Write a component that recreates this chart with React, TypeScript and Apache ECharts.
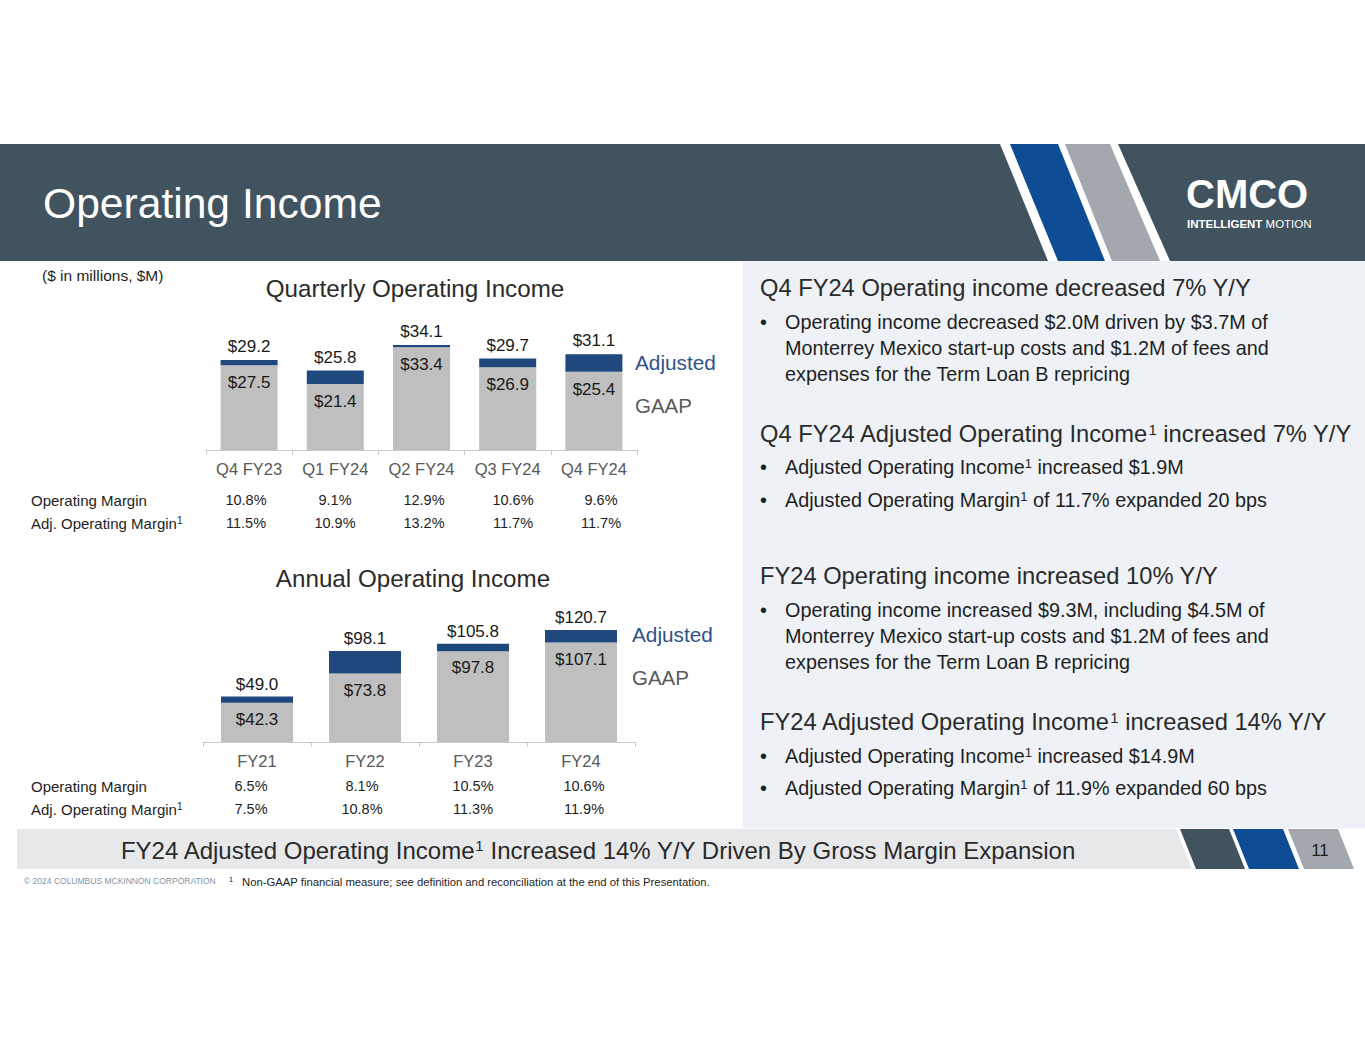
import React, { useEffect, useRef } from "react";
import * as echarts from "echarts";

// ---------- data ----------
const quarters = ["Q4 FY23", "Q1 FY24", "Q2 FY24", "Q3 FY24", "Q4 FY24"];
const quarterGaap = [27.5, 21.4, 33.4, 26.9, 25.4];
const quarterAdjusted = [29.2, 25.8, 34.1, 29.7, 31.1];
const quarterMargin = ["10.8%", "9.1%", "12.9%", "10.6%", "9.6%"];
const quarterAdjMargin = ["11.5%", "10.9%", "13.2%", "11.7%", "11.7%"];

const years = ["FY21", "FY22", "FY23", "FY24"];
const yearGaap = [42.3, 73.8, 97.8, 107.1];
const yearAdjusted = [49.0, 98.1, 105.8, 120.7];
const yearMargin = ["6.5%", "8.1%", "10.5%", "10.6%"];
const yearAdjMargin = ["7.5%", "10.8%", "11.3%", "11.9%"];

// ---------- styling ----------
const FONT = "'Liberation Sans', Arial, Helvetica, sans-serif";
const SLATE = "#41535F";
const STRIPE_BLUE = "#0E4C96";
const STRIPE_GRAY = "#A2A8AD";
const BAR_GRAY = "#BFBFBF";
const BAR_BLUE = "#1F497D";
const DARK = "#1e1e1e";
const HEAD = "#2a2a2a";

function txt(x: number, y: number, text: string, size: number, color: string, extra: any = {}) {
  return {
    type: "text",
    x,
    y,
    silent: true,
    z: 10,
    style: {
      text,
      fontSize: size,
      fontFamily: FONT,
      fill: color,
      align: "left",
      verticalAlign: "middle",
      textAlign: "left",
      textVerticalAlign: "middle",
      rich: {
        sup: {
          fontSize: Math.round(size * 0.64),
          fontFamily: FONT,
          fill: color,
          verticalAlign: "top",
        },
      },
      ...extra,
    },
  };
}

function poly(points: number[][], color: string, z = 1) {
  return { type: "polygon", silent: true, z, shape: { points }, style: { fill: color } };
}

function rect(x: number, y: number, w: number, h: number, color: string, z = 0) {
  return { type: "rect", silent: true, z, shape: { x, y, width: w, height: h }, style: { fill: color } };
}

const quarterTableX = [246, 335, 424, 513, 601];
const yearTableX = [251, 362, 473, 584];

function buildGraphics() {
  const g: any[] = [];
  // header band
  g.push(rect(0, 144, 1365, 117, SLATE, 0));
  g.push(poly([[1000, 144], [1118, 144], [1170, 261], [1048, 261]], "#ffffff", 1));
  g.push(poly([[1010, 144], [1058, 144], [1105, 261], [1058, 261]], STRIPE_BLUE, 2));
  g.push(poly([[1065, 144], [1110, 144], [1160, 261], [1112, 261]], STRIPE_GRAY, 2));
  g.push(txt(43, 203, "Operating Income", 42.6, "#ffffff"));
  // logo
  g.push(txt(1186, 194, "CMCO", 40, "#ffffff", { fontWeight: 900 }));
  g.push(
    txt(1187, 224, "{b|INTELLIGENT} MOTION", 11.5, "#ffffff", {
      rich: { b: { fontSize: 11.5, fontFamily: FONT, fontWeight: "bold", fill: "#ffffff" } },
    })
  );

  // right panel
  g.push(rect(743, 261, 622, 567, "#EEF2F6", 0));

  // footer bar + stripes
  g.push(poly([[17, 829], [1176, 829], [1192, 869], [17, 869]], "#E7E8EA", 0));
  g.push(poly([[1180, 829], [1229, 829], [1245, 869], [1196, 869]], SLATE, 2));
  g.push(poly([[1233, 829], [1283, 829], [1299, 869], [1249, 869]], STRIPE_BLUE, 2));
  g.push(poly([[1288, 829], [1338, 829], [1354, 869], [1304, 869]], STRIPE_GRAY, 2));
  g.push(txt(1320, 850, "11", 17, DARK, { align: "center", textAlign: "center" }));
  g.push(
    txt(598, 850, "FY24 Adjusted Operating Income{sup|1} Increased 14% Y/Y Driven By Gross Margin Expansion", 24, HEAD, {
      align: "center",
      textAlign: "center",
    })
  );
  g.push(txt(24, 881, "© 2024 COLUMBUS MCKINNON CORPORATION", 8.5, "#8393A8"));
  g.push(txt(229, 879, "1", 7.5, DARK));
  g.push(txt(242, 882, "Non-GAAP financial measure; see definition and reconciliation at the end of this Presentation.", 11.3, DARK));

  // left side captions
  g.push(txt(42, 275, "($ in millions, $M)", 15.5, DARK));
  g.push(txt(415, 288, "Quarterly Operating Income", 24.2, HEAD, { align: "center", textAlign: "center" }));
  g.push(txt(413, 578, "Annual Operating Income", 24.2, HEAD, { align: "center", textAlign: "center" }));
  g.push(txt(635, 362, "Adjusted", 20.8, "#2F5288"));
  g.push(txt(635, 405, "GAAP", 20.5, "#595959"));
  g.push(txt(632, 634, "Adjusted", 20.8, "#2F5288"));
  g.push(txt(632, 677, "GAAP", 20.5, "#595959"));

  // margin tables
  g.push(txt(31, 500, "Operating Margin", 15, DARK));
  g.push(txt(31, 523, "Adj. Operating Margin{sup|1}", 15, DARK));
  quarterMargin.forEach((v, i) => g.push(txt(quarterTableX[i], 500, v, 14.5, DARK, { align: "center", textAlign: "center" })));
  quarterAdjMargin.forEach((v, i) => g.push(txt(quarterTableX[i], 523, v, 14.5, DARK, { align: "center", textAlign: "center" })));
  g.push(txt(31, 786, "Operating Margin", 15, DARK));
  g.push(txt(31, 809, "Adj. Operating Margin{sup|1}", 15, DARK));
  yearMargin.forEach((v, i) => g.push(txt(yearTableX[i], 786, v, 14.5, DARK, { align: "center", textAlign: "center" })));
  yearAdjMargin.forEach((v, i) => g.push(txt(yearTableX[i], 809, v, 14.5, DARK, { align: "center", textAlign: "center" })));

  // right panel text
  const H = 23.7;
  const B = 19.8;
  const bullet = (y: number) => g.push(txt(760, y, "•", B, DARK));
  g.push(txt(760, 288, "Q4 FY24 Operating income decreased 7% Y/Y", H, HEAD));
  bullet(322);
  g.push(txt(785, 322, "Operating income decreased $2.0M driven by $3.7M of", B, DARK));
  g.push(txt(785, 348, "Monterrey Mexico start-up costs and $1.2M of fees and", B, DARK));
  g.push(txt(785, 374, "expenses for the Term Loan B repricing", B, DARK));

  g.push(txt(760, 434, "Q4 FY24 Adjusted Operating Income{sup|1} increased 7% Y/Y", H, HEAD));
  bullet(467);
  g.push(txt(785, 467, "Adjusted Operating Income{sup|1} increased $1.9M", B, DARK));
  bullet(500);
  g.push(txt(785, 500, "Adjusted Operating Margin{sup|1} of 11.7% expanded 20 bps", B, DARK));

  g.push(txt(760, 576, "FY24 Operating income increased 10% Y/Y", H, HEAD));
  bullet(610);
  g.push(txt(785, 610, "Operating income increased $9.3M, including $4.5M of", B, DARK));
  g.push(txt(785, 636, "Monterrey Mexico start-up costs and $1.2M of fees and", B, DARK));
  g.push(txt(785, 662, "expenses for the Term Loan B repricing", B, DARK));

  g.push(txt(760, 722, "FY24 Adjusted Operating Income{sup|1} increased 14% Y/Y", H, HEAD));
  bullet(756);
  g.push(txt(785, 756, "Adjusted Operating Income{sup|1} increased $14.9M", B, DARK));
  bullet(788);
  g.push(txt(785, 788, "Adjusted Operating Margin{sup|1} of 11.9% expanded 60 bps", B, DARK));
  return g;
}

function axisX(gridIndex: number, data: string[]) {
  return {
    type: "category",
    gridIndex,
    data,
    axisLine: { show: true, lineStyle: { color: "#C8C8C8", width: 1 } },
    axisTick: { show: true, length: 5, lineStyle: { color: "#C8C8C8", width: 1 } },
    axisLabel: { color: "#595959", fontSize: 16.5, fontFamily: FONT, margin: 10 },
    splitLine: { show: false },
  };
}

function axisY(gridIndex: number, max: number) {
  return { type: "value", gridIndex, min: 0, max, show: false, splitLine: { show: false } };
}

const money = (v: number) => "$" + v.toFixed(1);

function barPair(
  gaap: number[],
  adjusted: number[],
  idx: number,
  width: number,
  inDist: number,
  topDist: number
) {
  const labelBase = { show: true, color: "#1a1a1a", fontSize: 17, fontFamily: FONT };
  return [
    {
      type: "bar",
      name: "GAAP",
      xAxisIndex: idx,
      yAxisIndex: idx,
      stack: "s" + idx,
      barWidth: width,
      data: gaap,
      itemStyle: { color: BAR_GRAY },
      label: { ...labelBase, position: "insideTop", distance: inDist, formatter: (p: any) => money(gaap[p.dataIndex]) },
    },
    {
      type: "bar",
      name: "Adjusted",
      xAxisIndex: idx,
      yAxisIndex: idx,
      stack: "s" + idx,
      barWidth: width,
      data: adjusted.map((v, i) => Math.round((v - gaap[i]) * 10) / 10),
      itemStyle: { color: BAR_BLUE },
      label: { ...labelBase, position: "top", distance: topDist, formatter: (p: any) => money(adjusted[p.dataIndex]) },
    },
  ];
}

export default function App() {
  const ref = useRef<HTMLDivElement>(null);
  useEffect(() => {
    const chart = echarts.init(ref.current!, null, { renderer: "svg", width: 1365, height: 1055 });
    const option: any = {
      animation: false,
      backgroundColor: "#ffffff",
      textStyle: { fontFamily: FONT },
      grid: [
        { left: 206, top: 450 - 123.2, width: 431, height: 123.2, containLabel: false },
        { left: 203, top: 742 - 129.92, width: 432, height: 129.92, containLabel: false },
      ],
      xAxis: [axisX(0, quarters), axisX(1, years)],
      yAxis: [axisY(0, 40), axisY(1, 140)],
      series: [
        ...barPair(quarterGaap, quarterAdjusted, 0, 57, 9, 5),
        ...barPair(yearGaap, yearAdjusted, 1, 72, 8, 4),
      ],
      graphic: { elements: buildGraphics() },
    };
    chart.setOption(option);
    return () => chart.dispose();
  }, []);
  return (
    <div
      ref={ref}
      style={{ position: "absolute", left: 0, top: 0, width: 1365, height: 1055, background: "#ffffff" }}
    />
  );
}
